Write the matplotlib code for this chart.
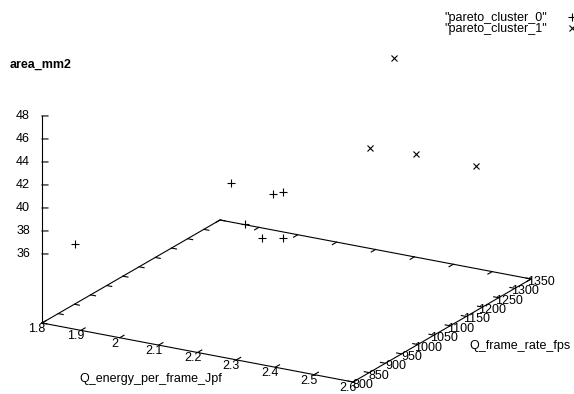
import matplotlib
matplotlib.use("Agg")
import matplotlib.pyplot as plt
from matplotlib.transforms import offset_copy
from matplotlib.lines import Line2D
from mpl_toolkits.mplot3d import proj3d
import numpy as np

plt.rcParams['font.family'] = ['Liberation Sans', 'DejaVu Sans']
plt.rcParams['font.size'] = 9

# ---- data ----
energy0 = [1.85, 2.16, 2.24, 2.27, 2.19, 2.23, 2.27]
fps0 = [842, 951, 986, 980, 958, 962, 979]
area0 = [36.5, 42.0, 41.0, 41.5, 38.5, 37.5, 37.5]

energy1 = [2.28, 2.35, 2.42, 2.50]
fps1 = [1310, 1153, 1211, 1299]
area1 = [47.8, 43.0, 42.0, 40.0]

series_labels = ['"pareto_cluster_0"', '"pareto_cluster_1"']

x_ticks = [1.8, 1.9, 2.0, 2.1, 2.2, 2.3, 2.4, 2.5, 2.6]
x_ticklabels = ['1.8', '1.9', '2', '2.1', '2.2', '2.3', '2.4', '2.5', '2.6']
y_ticks = [800, 850, 900, 950, 1000, 1050, 1100, 1150, 1200, 1250, 1300, 1350]
z_ticks = [36, 38, 40, 42, 44, 46, 48]

xlim = (1.8, 2.6)
ylim = (800, 1350)
zlim = (36, 48)
zbase = 30  # xy-plane level (ticslevel 0.5)

# ---- figure ----
W, H = 574, 394
fig = plt.figure(figsize=(W / 100, H / 100), dpi=100)
ax = fig.add_axes([-5.8 / W, -5.8 / H, 1, 1], projection='3d', proj_type='ortho')
ax.set_xlim(*xlim)
ax.set_ylim(*ylim)
ax.set_zlim(zbase, zlim[1])
ax.view_init(elev=19.35, azim=-60.2)
ax.set_box_aspect((358.4, 358.2, 219.4), zoom=1.3606)
ax.set_axis_off()

M = ax.get_proj()


def label3d(x, y, z, s, dx, dy, **kw):
    xp, yp, _ = proj3d.proj_transform(x, y, z, M)
    tr = offset_copy(ax.transData, fig=fig, x=dx, y=dy, units='dots')
    ax.text2D(xp, yp, s, transform=tr, **kw)


lk = dict(color='black', lw=0.8, clip_on=False)

# base frame
x0, x1 = xlim
y0, y1 = ylim
ax.plot([x0, x1, x1, x0, x0], [y0, y0, y1, y1, y0], [zbase] * 5, **lk)
# z axis
ax.plot([x0, x0], [y0, y0], [zbase, zlim[1]], **lk)

# tick sizes (in data units)
ty = 0.024 * (y1 - y0)
tx = 0.016 * (x1 - x0)
for xv in x_ticks:
    ax.plot([xv, xv], [y0, y0 + ty], [zbase, zbase], **lk)
    ax.plot([xv, xv], [y1, y1 - ty], [zbase, zbase], **lk)
for yv in y_ticks:
    ax.plot([x1, x1 - tx], [yv, yv], [zbase, zbase], **lk)
    ax.plot([x0, x0 + tx], [yv, yv], [zbase, zbase], **lk)
for zv in z_ticks:
    ax.plot([x0, x0 + 0.0116], [y0, y0 + 4.58], [zv, zv], **lk)

# tick labels
for xv, s in zip(x_ticks, x_ticklabels):
    label3d(xv, y0, zbase, s, -5, -6, ha='center', va='center')
for yv in y_ticks:
    label3d(x1, yv, zbase, str(yv), 10, -3, ha='center', va='center')
for zv in z_ticks:
    label3d(x0, y0, zv, str(zv), -12, 0, ha='right', va='center')

# data
ax.plot(energy0, fps0, area0, linestyle='none', marker='+', color='black',
        ms=6, mew=0.8, clip_on=False)
ax.plot(energy1, fps1, area1, linestyle='none', marker='x', color='black',
        ms=5, mew=0.8, clip_on=False)

# axis labels
fig.text(10 / W, 1 - 65 / H, 'area_mm2', ha='left', va='center', fontweight='bold')
fig.text(151 / W, 1 - 379 / H, 'Q_energy_per_frame_Jpf', ha='center', va='center')
fig.text(520 / W, 1 - 346 / H, 'Q_frame_rate_fps', ha='center', va='center')

# legend
handles = [Line2D([], [], linestyle='none', marker='+', color='black', ms=6, mew=0.8),
           Line2D([], [], linestyle='none', marker='x', color='black', ms=5, mew=0.8)]
fig.legend(handles, series_labels, loc='upper right', bbox_to_anchor=(1.025, 0.994),
           markerfirst=False, frameon=False, handlelength=1.0, handletextpad=1.53,
           labelspacing=-0.11, borderpad=0.3)

fig.savefig('out.png', dpi=100)
